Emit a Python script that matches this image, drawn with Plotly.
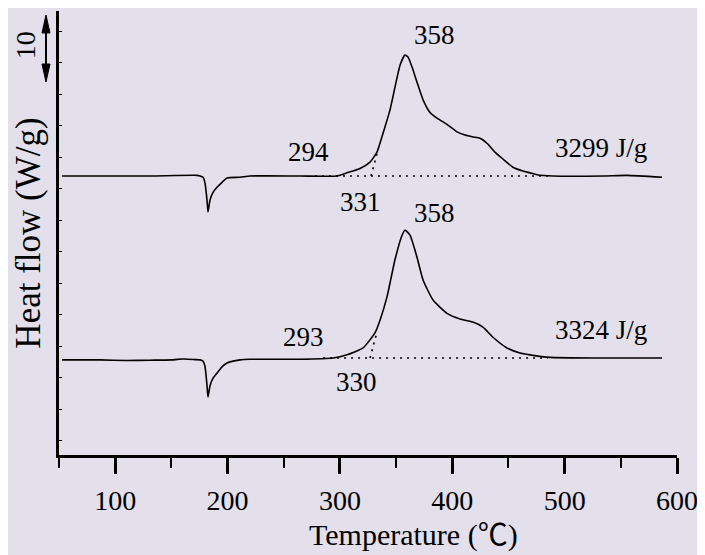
import plotly.graph_objects as go

# ---------------- data (temperature in °C, heat flow in W/g, curves offset as plotted) ----------------
upper_T = [52.7, 86.5, 131.0, 172.8, 175.5, 178.2, 179.9, 181.7, 182.6, 184.4, 187.1, 190.6, 195.1,
           199.5, 211.1, 220.0, 264.5, 297.4, 306.3, 317.9, 326.8, 333.0, 338.4, 344.6, 349.0, 353.5,
           357.9, 360.6, 364.2, 368.6, 374.0, 380.2, 386.4, 395.3, 404.2, 411.3, 418.4, 424.7, 430.9,
           438.0, 445.1, 454.0, 462.9, 469.2, 475.4, 489.6, 534.1, 555.5, 586.7]
upper_W = [47.0, 47.0, 47.0, 47.1, 47.0, 46.8, 45.9, 43.2, 41.3, 43.2, 44.4, 45.2, 46.0,
           46.7, 46.8, 47.0, 47.0, 47.0, 47.5, 48.2, 49.2, 50.8, 53.8, 57.5, 61.1, 64.6,
           66.2, 65.9, 64.3, 61.9, 59.1, 57.1, 56.2, 55.2, 54.0, 53.5, 53.2, 53.0, 52.2,
           50.8, 49.7, 48.4, 47.8, 47.5, 47.2, 47.0, 47.0, 47.1, 46.8]

lower_T = [52.7, 86.5, 110.0, 131.0, 150.0, 159.5, 162.1, 171.0, 175.5, 178.2, 179.9, 181.7, 182.6,
           184.4, 187.1, 190.6, 195.1, 199.5, 211.1, 220.0, 264.5, 293.9, 306.3, 320.6, 331.2, 335.7,
           341.9, 349.0, 355.3, 357.9, 362.4, 368.6, 374.0, 382.9, 395.3, 406.9, 418.4, 427.3, 436.2,
           448.7, 460.3, 469.2, 487.0, 531.5, 586.7]
lower_W = [17.8, 17.8, 17.7, 17.75, 17.8, 17.95, 17.95, 17.85, 17.8, 17.6, 16.8, 13.8, 11.9,
           13.7, 14.9, 15.7, 16.7, 17.3, 17.8, 17.9, 17.9, 18.1, 18.6, 19.7, 22.1, 24.1,
           27.8, 33.7, 37.6, 38.4, 37.6, 34.1, 30.5, 27.3, 25.2, 24.3, 23.8, 23.0, 21.4,
           19.7, 18.9, 18.6, 18.2, 18.1, 18.1]

# integration baselines and onset tangents
upper_base_T = [277.8, 489.6]
upper_base_W = [47.0, 47.0]
lower_base_T = [285.0, 485.0]
lower_base_W = [18.1, 18.1]
upper_tan_T = [327.7, 333.1]
upper_tan_W = [47.0, 50.6]
lower_tan_T = [326.8, 333.0]
lower_tan_W = [18.1, 22.2]

# labels: (temperature, heat flow, text)
label_T = [384.6, 271.6, 317.9, 532.4, 384.6, 267.2, 315.2, 532.4]
label_W = [69.4, 50.8, 42.9, 51.4, 41.1, 21.4, 14.3, 22.5]
label_text = ["358", "294", "331", "3299 J/g", "358", "293", "330", "3324 J/g"]

x_ticks = [100, 200, 300, 400, 500, 600]

# ---------------- styling ----------------
BG = "#E3DFEB"
SERIF = "Liberation Serif, Times New Roman, serif"
LINE = dict(color="black", width=1.6, shape="spline", smoothing=0.5)
DOT = dict(color="black", width=1.6, dash="2px,5px")

fig = go.Figure()
fig.add_trace(go.Scatter(x=upper_T, y=upper_W, mode="lines", line=LINE, showlegend=False, hoverinfo="skip"))
fig.add_trace(go.Scatter(x=lower_T, y=lower_W, mode="lines", line=LINE, showlegend=False, hoverinfo="skip"))
for bx, by in [(upper_base_T, upper_base_W), (lower_base_T, lower_base_W),
               (upper_tan_T, upper_tan_W), (lower_tan_T, lower_tan_W)]:
    fig.add_trace(go.Scatter(x=bx, y=by, mode="lines", line=DOT, showlegend=False, hoverinfo="skip"))

annotations = []
for t, w, s in zip(label_T, label_W, label_text):
    annotations.append(dict(x=t, y=w, xref="x", yref="y", text=s, showarrow=False,
                            font=dict(family=SERIF, size=27, color="black"),
                            xanchor="center", yanchor="middle"))

# x axis title (offset to the right like the original)
annotations.append(dict(x=0.574, y=-0.174, xref="paper", yref="paper",
                        text="Temperature (<span style=\"font-family:'Noto Sans CJK SC'\">℃</span>)",
                        showarrow=False, font=dict(family=SERIF, size=30, color="black"),
                        xanchor="center", yanchor="middle"))
# scale marker "10"
annotations.append(dict(x=-0.055, y=0.923, xref="paper", yref="paper", text="10", textangle=-90,
                        showarrow=False, font=dict(family=SERIF, size=28, color="black"),
                        xanchor="center", yanchor="middle"))

shapes = [
    dict(type="line", xref="paper", yref="paper", x0=-0.02104, x1=-0.02104, y0=0.95045, y1=0.88063,
         line=dict(color="black", width=2)),
    dict(type="path", xref="paper", yref="paper",
         path="M -0.02104 0.99099 L -0.02751 0.95045 L -0.01457 0.95045 Z",
         fillcolor="black", line=dict(color="black", width=1)),
    dict(type="path", xref="paper", yref="paper",
         path="M -0.02104 0.84009 L -0.02751 0.88063 L -0.01457 0.88063 Z",
         fillcolor="black", line=dict(color="black", width=1)),
]

fig.update_layout(
    width=697, height=547,
    margin=dict(l=51, r=28, t=3, b=100, pad=0),
    paper_bgcolor=BG, plot_bgcolor=BG,
    font=dict(family=SERIF, color="black"),
    annotations=annotations, shapes=shapes,
    xaxis=dict(range=[50, 600], showline=True, linecolor="black", linewidth=2.5,
               ticks="outside", ticklen=16, tickwidth=2.5, tickcolor="black",
               tickmode="array", tickvals=x_ticks, ticktext=[str(v) for v in x_ticks],
               ticklabelstandoff=3,
               minor=dict(ticks="outside", ticklen=10, tickwidth=2, tickcolor="black", dtick=100, tick0=50),
               tickfont=dict(family=SERIF, size=28, color="black"),
               showgrid=False, zeroline=False, mirror=False),
    yaxis=dict(range=[2.7, 73.2], showline=True, linecolor="black", linewidth=2.5,
               ticks="inside", ticklen=3, tickwidth=1.2, tickcolor="black", dtick=5, tick0=0,
               showticklabels=False, showgrid=False, zeroline=False,
               title=dict(text="Heat flow (W/g)", font=dict(family=SERIF, size=35, color="black"), standoff=6)),
)

fig.write_html("out.html")
